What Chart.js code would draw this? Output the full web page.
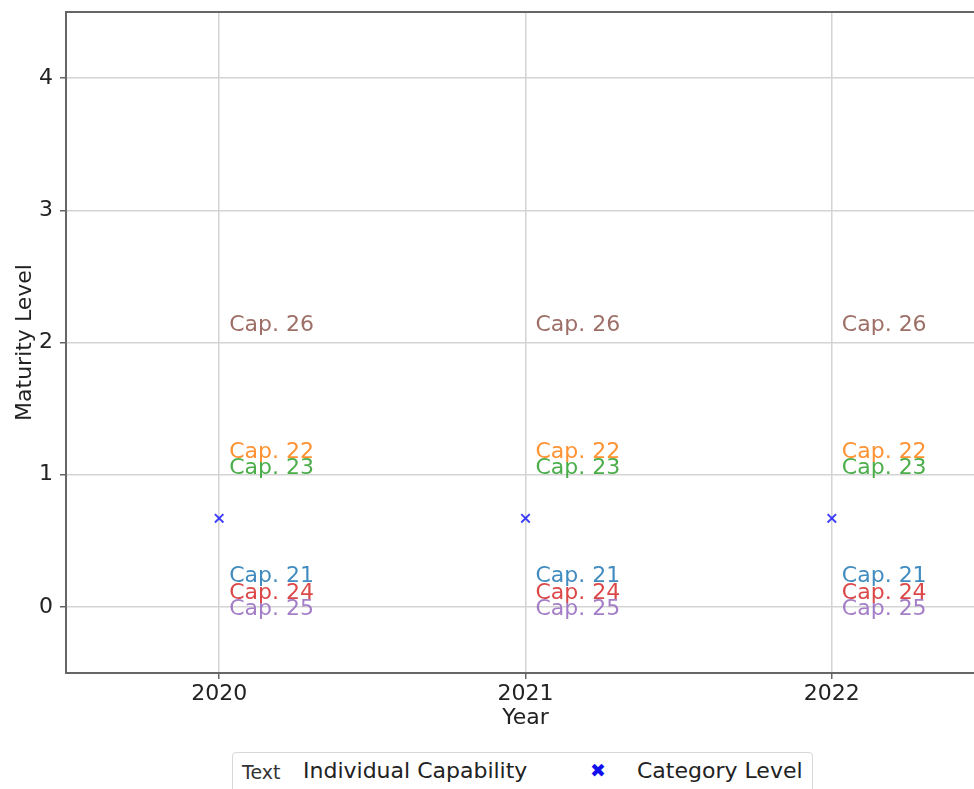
<!DOCTYPE html>
<html>
<head>
<meta charset="utf-8">
<script src="https://cdn.jsdelivr.net/npm/chart.js@4"></script>
<style>
  html, body { margin: 0; padding: 0; background: #fff; overflow: hidden; }
  #wrap { position: relative; width: 974px; height: 789px; overflow: hidden; }
  #chart-box { position: absolute; left: 0; top: 0; width: 993px; height: 740px; }
  #legend {
    position: absolute; left: 232px; top: 752px; width: 581px; height: 50px;
    border: 1px solid #d8d8d8; border-radius: 4px; box-sizing: border-box;
    font-family: "DejaVu Sans", sans-serif; color: #222;
  }
  #legend span { position: absolute; top: 5px; white-space: nowrap; }
</style>
</head>
<body>
<div id="wrap">
  <div id="chart-box"><canvas id="chart-maturity"></canvas></div>
  <div id="legend">
    <span style="left:9px;top:8px;font-size:19px;color:#333">Text</span>
    <span style="left:70px;font-size:22px">Individual Capability</span>
    <span style="left:357px;top:6px;font-size:19px;color:#1010ee;font-weight:bold">&#x2716;</span>
    <span style="left:404px;font-size:22px">Category Level</span>
  </div>
</div>
<script>
// Data
const years = [2020, 2021, 2022];
const capLabels = ["Cap. 21", "Cap. 22", "Cap. 23", "Cap. 24", "Cap. 25", "Cap. 26"];
const capScores = [0, 1, 1, 0, 0, 2];
const capColors = [
  "rgba(31,119,180,0.85)",
  "rgba(255,127,14,0.85)",
  "rgba(44,160,44,0.85)",
  "rgba(214,39,40,0.85)",
  "rgba(148,103,189,0.85)",
  "rgba(140,86,75,0.85)",
];
// vertical nudge (in maturity units) so stacked labels don't overlap
const capNudge = [0.23, 0.17, 0.05, 0.1, -0.02, 0.13];
const categoryLevel = [0.67, 0.67, 0.67];
const yTicks = [0, 1, 2, 3, 4];

const FONT = "'DejaVu Sans', sans-serif";
const SPINE = "#666";

// matplotlib-ish frame: top + right spines
const framePlugin = {
  id: "frame",
  afterDraw(chart) {
    const { ctx, chartArea: a } = chart;
    ctx.save();
    ctx.strokeStyle = SPINE;
    ctx.lineWidth = 2;
    ctx.beginPath();
    ctx.moveTo(a.left, a.top);
    ctx.lineTo(a.right, a.top);
    ctx.lineTo(a.right, a.bottom);
    ctx.stroke();
    ctx.restore();
  },
};

// capability labels written next to each year
const capTextPlugin = {
  id: "capText",
  afterDatasetsDraw(chart) {
    const { ctx, scales } = chart;
    ctx.save();
    ctx.font = "22px " + FONT;
    ctx.textBaseline = "middle";
    ctx.textAlign = "left";
    years.forEach((yr) => {
      const px = scales.x.getPixelForValue(yr) + 10;
      capLabels.forEach((lbl, i) => {
        ctx.fillStyle = capColors[i];
        ctx.fillText(lbl, px, scales.y.getPixelForValue(capScores[i] + capNudge[i]));
      });
    });
    ctx.restore();
  },
};

const ctx = document.getElementById("chart-maturity").getContext("2d");
new Chart(ctx, {
  type: "scatter",
  data: {
    datasets: [
      {
        label: "Category Level",
        data: years.map((y, i) => ({ x: y, y: categoryLevel[i] })),
        pointStyle: "crossRot",
        pointRadius: 6,
        borderColor: "rgba(0,0,255,0.75)",
        backgroundColor: "rgba(0,0,255,0.75)",
        pointBorderWidth: 2,
      },
    ],
  },
  options: {
    responsive: true,
    maintainAspectRatio: false,
    animation: false,
    layout: { padding: { top: 12, right: 5, left: 0, bottom: 0 } },
    plugins: { legend: { display: false }, tooltip: { enabled: false } },
    scales: {
      x: {
        type: "linear",
        min: 2019.5,
        max: 2022.5,
        afterBuildTicks: (s) => { s.ticks = years.map((v) => ({ value: v })); },
        afterFit: (s) => {
          s.height = 67;
          s.paddingLeft = 0;
          s.paddingRight = 0;
        },
        ticks: {
          callback: (v) => String(v),
          color: "#222",
          font: { family: FONT, size: 22 },
          padding: 2,
        },
        grid: { color: "#d4d4d4", lineWidth: 1.5, tickLength: 6, tickColor: SPINE },
        border: { display: true, color: SPINE, width: 2 },
        title: {
          display: true,
          text: "Year",
          color: "#222",
          font: { family: FONT, size: 22 },
          padding: { top: 0, bottom: 9 },
        },
      },
      y: {
        min: -0.5,
        max: 4.5,
        afterBuildTicks: (s) => { s.ticks = yTicks.map((v) => ({ value: v })); },
        afterFit: (s) => {
          s.width = 66;
          s.paddingTop = 0;
          s.paddingBottom = 0;
        },
        ticks: {
          color: "#222",
          font: { family: FONT, size: 22 },
          padding: 7,
        },
        grid: { color: "#d4d4d4", lineWidth: 1.5, tickLength: 6, tickColor: SPINE },
        border: { display: true, color: SPINE, width: 2 },
        title: {
          display: true,
          text: "Maturity Level",
          color: "#222",
          font: { family: FONT, size: 22 },
          padding: { top: 12, bottom: 0 },
        },
      },
    },
  },
  plugins: [framePlugin, capTextPlugin],
});
</script>
</body>
</html>
